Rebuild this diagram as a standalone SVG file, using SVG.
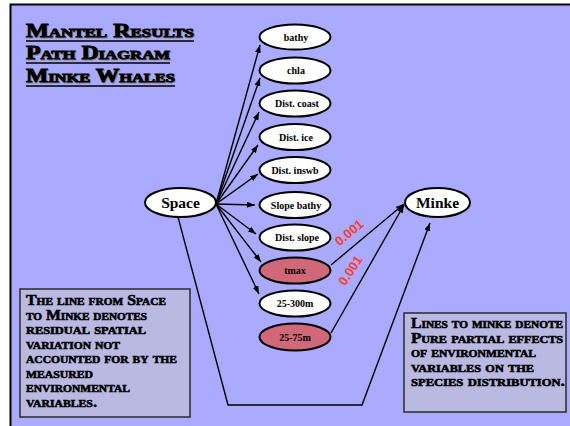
<svg xmlns="http://www.w3.org/2000/svg" width="570" height="426" viewBox="0 0 570 426">
  <defs>
    <marker id="arrow" markerUnits="userSpaceOnUse" markerWidth="9" markerHeight="7" refX="8" refY="3" orient="auto">
      <path d="M0,0 L8,3 L0,6 z" fill="#000"/>
    </marker>
    <style>
      .title { font-family: "Liberation Serif", serif; font-weight: bold; font-variant: small-caps; font-size: 18.5px; fill: #000; stroke: #000; stroke-width: 0.9; }
      .titleShadow { font-family: "Liberation Serif", serif; font-weight: bold; font-variant: small-caps; font-size: 18.5px; fill: #888; stroke: #888; stroke-width: 0.9; }
      .uline { stroke: #000; stroke-width: 1.6; }
      .node { fill: #fff; stroke: #000; stroke-width: 2; }
      .hot { fill: #d0687a; stroke: #000; stroke-width: 2; }
      .lbl { font-family: "Liberation Serif", serif; font-weight: bold; font-size: 10px; text-anchor: middle; fill: #000; }
      .big { font-family: "Liberation Serif", serif; font-weight: bold; font-size: 15.5px; text-anchor: middle; fill: #000; }
      .edge { fill: none; stroke: #000; stroke-width: 1.4; marker-end: url(#arrow); }
      .pval { font-family: "Liberation Sans", Arial, sans-serif; font-weight: bold; font-size: 13px; fill: #ff3a2a; text-anchor: middle; }
      .note { fill: #b9b9e2; stroke: #333; stroke-width: 1.6; }
      .ntext { font-family: "Liberation Serif", serif; font-weight: bold; font-variant: small-caps; font-size: 14px; fill: #000; stroke: #000; stroke-width: 0.55; }
    </style>
  </defs>

  <!-- page and slide background -->
  <rect x="0" y="0" width="570" height="426" fill="#fff"/>
  <rect x="10.5" y="4.5" width="570" height="430" fill="#aaaaff" stroke="#000" stroke-width="2"/>

  <!-- heading -->
  <g id="title">
    <text class="titleShadow" x="27" y="38" textLength="168" lengthAdjust="spacingAndGlyphs">Mantel Results</text>
    <text class="titleShadow" x="27" y="60" textLength="144" lengthAdjust="spacingAndGlyphs">Path Diagram</text>
    <text class="titleShadow" x="27" y="83" textLength="149" lengthAdjust="spacingAndGlyphs">Minke Whales</text>
    <text class="title" x="26" y="37" textLength="168" lengthAdjust="spacingAndGlyphs">Mantel Results</text>
    <text class="title" x="26" y="59" textLength="144" lengthAdjust="spacingAndGlyphs">Path Diagram</text>
    <text class="title" x="26" y="82" textLength="149" lengthAdjust="spacingAndGlyphs">Minke Whales</text>
    <line class="uline" x1="26" y1="41" x2="194" y2="41"/>
    <line class="uline" x1="26" y1="63" x2="170" y2="63"/>
    <line class="uline" x1="26" y1="86" x2="175" y2="86"/>
  </g>

  <!-- connectors -->
  <g id="connectors">
    <path class="edge" d="M216,204 L260,45"/>
    <path class="edge" d="M216,204 L260,78"/>
    <path class="edge" d="M216,204 L259,112"/>
    <path class="edge" d="M216,204 L258,145"/>
    <path class="edge" d="M216,204 L258,174"/>
    <path class="edge" d="M216,204 L255,205"/>
    <path class="edge" d="M216,204 L256,234"/>
    <path class="edge" d="M216,204 L261,262"/>
    <path class="edge" d="M216,204 L259,294"/>
    <path class="edge" d="M331,265 L404,204"/>
    <path class="edge" d="M331,333 L404,205"/>
    <path class="edge" d="M178,217 L228,405 L362,405 L430,223"/>
    <text class="pval" transform="translate(352,236) rotate(-40)">0.001</text>
    <text class="pval" transform="translate(354,273) rotate(-56)">0.001</text>
  </g>

  <!-- nodes -->
  <g id="space"><ellipse class="node" cx="180.5" cy="202.5" rx="35.5" ry="14.5"/><text class="big" x="180.5" y="208">Space</text></g>
  <g id="minke"><ellipse class="node" cx="437.5" cy="202.5" rx="32.5" ry="14.5"/><text class="big" x="437.5" y="208">Minke</text></g>

  <g id="bathy"><ellipse class="node" cx="295" cy="37" rx="35.5" ry="12.5"/><text class="lbl" x="296" y="40.5">bathy</text></g>
  <g id="chla"><ellipse class="node" cx="295" cy="70.5" rx="35.5" ry="13"/><text class="lbl" x="296" y="74">chla</text></g>
  <g id="dist-coast"><ellipse class="node" cx="295" cy="103.5" rx="35.5" ry="13"/><text class="lbl" x="297" y="107">Dist. coast</text></g>
  <g id="dist-ice"><ellipse class="node" cx="295" cy="137" rx="35.5" ry="13"/><text class="lbl" x="296" y="140.5">Dist. ice</text></g>
  <g id="dist-inswb"><ellipse class="node" cx="295" cy="170" rx="35.5" ry="13"/><text class="lbl" x="295" y="173.5">Dist. inswb</text></g>
  <g id="slope-bathy"><ellipse class="node" cx="295" cy="205" rx="35.5" ry="13"/><text class="lbl" x="296" y="208.5">Slope bathy</text></g>
  <g id="dist-slope"><ellipse class="node" cx="295" cy="237.5" rx="35.5" ry="13"/><text class="lbl" x="297" y="241">Dist. slope</text></g>
  <g id="tmax"><ellipse class="hot" cx="295" cy="270.5" rx="35.5" ry="13"/><text class="lbl" x="295" y="274">tmax</text></g>
  <g id="d25-300m"><ellipse class="node" cx="295" cy="303.5" rx="35.5" ry="13"/><text class="lbl" x="295" y="307">25-300m</text></g>
  <g id="d25-75m"><ellipse class="hot" cx="295" cy="337" rx="35.5" ry="13.5"/><text class="lbl" x="295" y="340.5">25-75m</text></g>

  <!-- explanatory notes -->
  <g id="note-left">
    <rect class="note" x="20" y="289" width="170" height="128"/>
    <text class="ntext" x="26" y="305" textLength="140" lengthAdjust="spacingAndGlyphs">The line from Space</text>
    <text class="ntext" x="26" y="319.5" textLength="121" lengthAdjust="spacingAndGlyphs">to Minke denotes</text>
    <text class="ntext" x="26" y="334" textLength="120" lengthAdjust="spacingAndGlyphs">residual spatial</text>
    <text class="ntext" x="26" y="348.5" textLength="94" lengthAdjust="spacingAndGlyphs">variation not</text>
    <text class="ntext" x="26" y="363" textLength="151" lengthAdjust="spacingAndGlyphs">accounted for by the</text>
    <text class="ntext" x="26" y="377.5" textLength="67" lengthAdjust="spacingAndGlyphs">measured</text>
    <text class="ntext" x="26" y="392" textLength="104" lengthAdjust="spacingAndGlyphs">environmental</text>
    <text class="ntext" x="26" y="406.5" textLength="71" lengthAdjust="spacingAndGlyphs">variables.</text>
  </g>
  <g id="note-right">
    <rect class="note" x="404" y="313" width="162" height="99"/>
    <text class="ntext" x="411" y="328" textLength="152" lengthAdjust="spacingAndGlyphs">Lines to minke denote</text>
    <text class="ntext" x="411" y="342.5" textLength="152" lengthAdjust="spacingAndGlyphs">Pure partial effects</text>
    <text class="ntext" x="411" y="357" textLength="125" lengthAdjust="spacingAndGlyphs">of environmental</text>
    <text class="ntext" x="411" y="371.5" textLength="123" lengthAdjust="spacingAndGlyphs">variables on the</text>
    <text class="ntext" x="411" y="386" textLength="154" lengthAdjust="spacingAndGlyphs">species distribution.</text>
  </g>
</svg>
